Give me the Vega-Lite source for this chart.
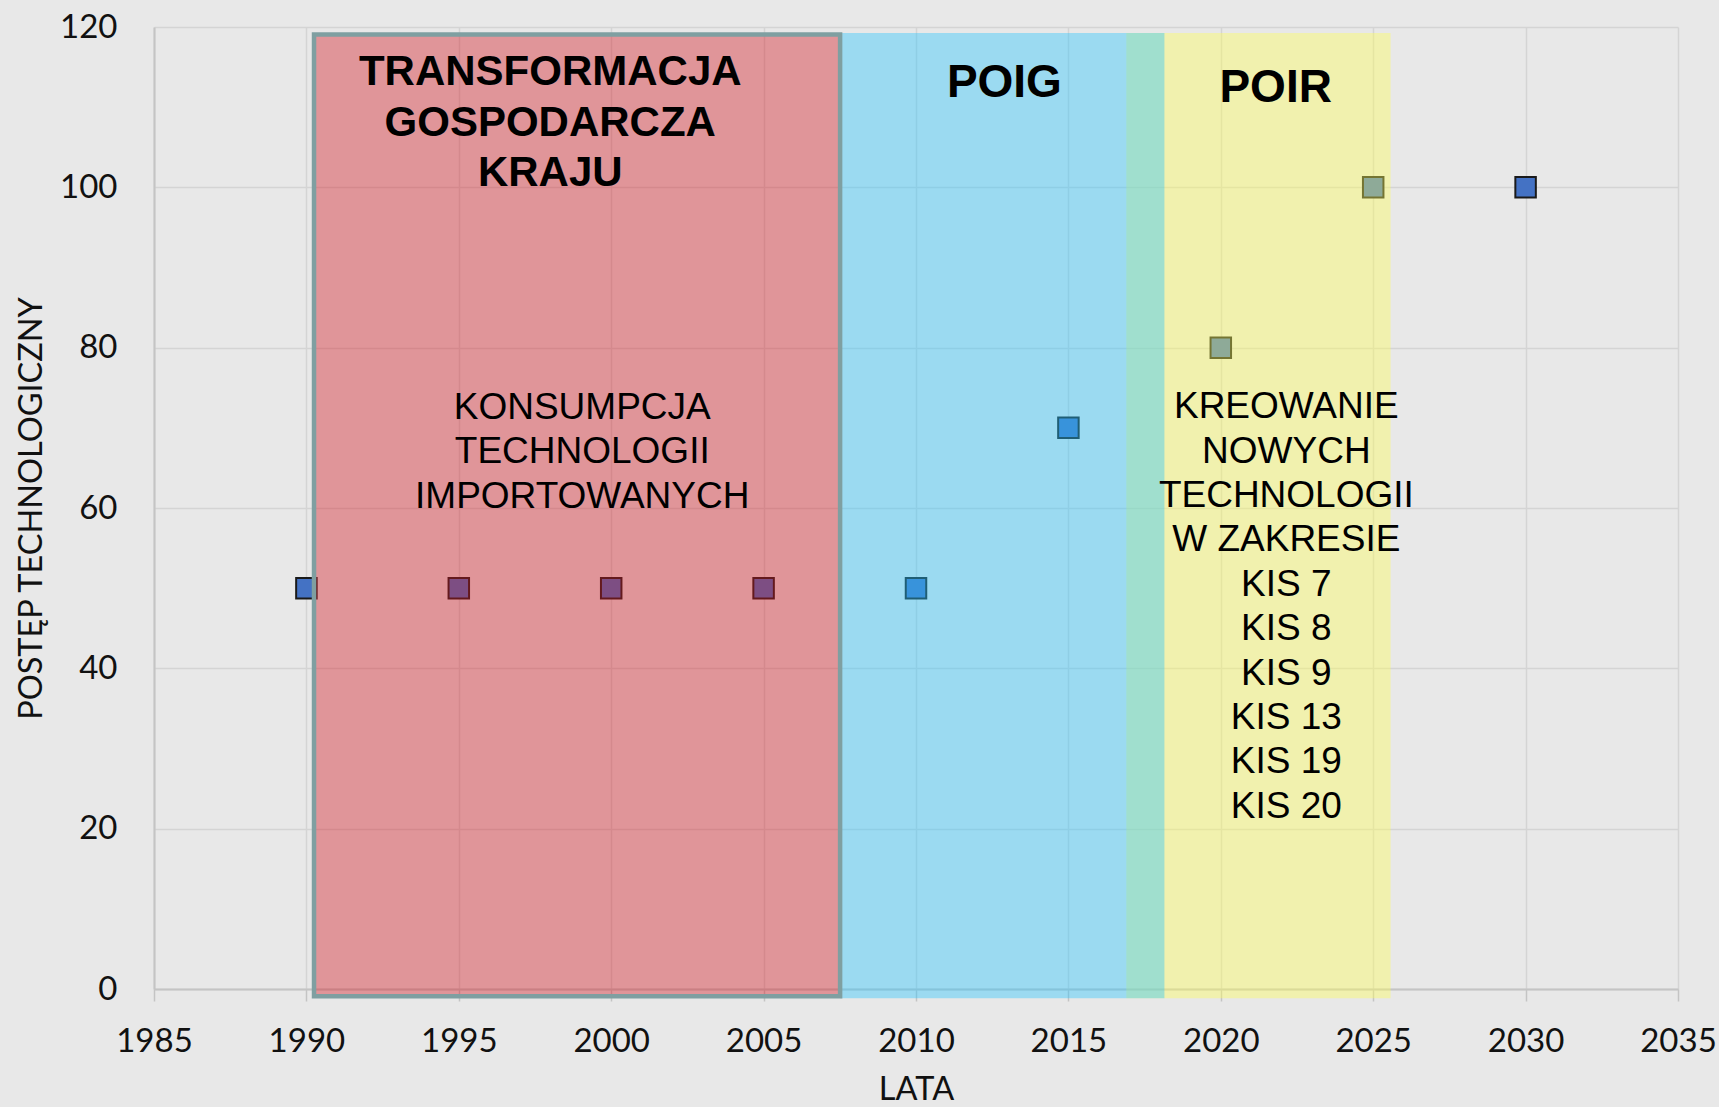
{
  "$schema": "https://vega.github.io/schema/vega-lite/v6.json",
  "width": 1524,
  "height": 962,
  "autosize": {"type": "none"},
  "padding": {"left": 154, "top": 27, "right": 41, "bottom": 118},
  "background": "#e8e8e8",
  "config": {
    "view": {"stroke": null},
    "axis": {
      "labelFont": "Lato",
      "labelFontSize": 33,
      "labelColor": "#111111",
      "labelFlush": false,
      "labelOverlap": false,
      "titleFont": "Lato",
      "titleFontSize": 32.5,
      "titleFontWeight": "normal",
      "titleColor": "#111111",
      "gridColor": "#d4d4d4",
      "gridWidth": 1.5,
      "domainColor": "#c4c4c4",
      "domainWidth": 2,
      "tickColor": "#c4c4c4",
      "tickWidth": 1.5
    },
    "axisX": {"tickSize": 12, "labelPadding": 24, "titlePadding": 15},
    "axisY": {"ticks": false, "labelPadding": 37, "titlePadding": 11}
  },
  "datasets": {
    "punkty": [
      {"rok": 1990, "postep": 50},
      {"rok": 1995, "postep": 50},
      {"rok": 2000, "postep": 50},
      {"rok": 2005, "postep": 50},
      {"rok": 2010, "postep": 50},
      {"rok": 2015, "postep": 70},
      {"rok": 2020, "postep": 80},
      {"rok": 2025, "postep": 100},
      {"rok": 2030, "postep": 100}
    ],
    "okresy": [
      {"okres": "POIR", "od": 2016.9, "do": 2025.57, "dol": -1.16, "gora": 119.25},
      {"okres": "POIG", "od": 2007.51, "do": 2018.15, "dol": -1.16, "gora": 119.25},
      {"okres": "TRANSFORMACJA", "od": 1990.25, "do": 2007.51, "dol": -0.89, "gora": 119.07}
    ],
    "tytuly": [
      {"okres": "TRANSFORMACJA", "tekst": "TRANSFORMACJA\nGOSPODARCZA\nKRAJU", "rok": 1998.0, "poziom": 112.8},
      {"okres": "POIG", "tekst": "POIG", "rok": 2012.9, "poziom": 111.3},
      {"okres": "POIR", "tekst": "POIR", "rok": 2021.8, "poziom": 110.65}
    ],
    "opisy": [
      {"tekst": "KONSUMPCJA\nTECHNOLOGII\nIMPORTOWANYCH", "rok": 1999.05, "poziom": 71.1},
      {"tekst": "KREOWANIE\nNOWYCH\nTECHNOLOGII\nW ZAKRESIE\nKIS 7\nKIS 8\nKIS 9\nKIS 13\nKIS 19\nKIS 20", "rok": 2022.15, "poziom": 71.2}
    ]
  },
  "layer": [
    {
      "data": {"name": "punkty"},
      "mark": {"type": "square", "size": 420, "fill": "#4472c4", "stroke": "#1a1a1a", "strokeWidth": 2, "opacity": 1},
      "encoding": {
        "x": {
          "field": "rok", "type": "quantitative",
          "scale": {"domain": [1985, 2035], "nice": false, "zero": false},
          "axis": {"title": "LATA", "values": [1985, 1990, 1995, 2000, 2005, 2010, 2015, 2020, 2025, 2030, 2035], "format": "d"}
        },
        "y": {
          "field": "postep", "type": "quantitative",
          "scale": {"domain": [0, 120], "nice": false},
          "axis": {"title": "POSTĘP TECHNOLOGICZNY", "values": [0, 20, 40, 60, 80, 100, 120]}
        }
      }
    },
    {
      "data": {"name": "okresy"},
      "mark": {"type": "rect", "fillOpacity": 0.4, "strokeOpacity": 1, "strokeWidth": 4.5},
      "encoding": {
        "x": {"field": "od", "type": "quantitative"},
        "x2": {"field": "do"},
        "y": {"field": "dol", "type": "quantitative"},
        "y2": {"field": "gora"},
        "fill": {
          "field": "okres", "type": "nominal",
          "scale": {"domain": ["TRANSFORMACJA", "POIG", "POIR"], "range": ["#d41a24", "#28c6ff", "#ffff58"]},
          "legend": null
        },
        "stroke": {
          "condition": {"test": "datum.okres === 'TRANSFORMACJA'", "value": "#7f9fa1"},
          "value": "transparent"
        }
      }
    },
    {
      "data": {"name": "tytuly"},
      "transform": [{"filter": "datum.okres === 'TRANSFORMACJA'"}],
      "mark": {"type": "text", "font": "Liberation Sans", "fontWeight": "bold", "fontSize": 42, "lineHeight": 50.8, "align": "center", "baseline": "alphabetic", "lineBreak": "\n", "color": "#000000"},
      "encoding": {
        "x": {"field": "rok", "type": "quantitative"},
        "y": {"field": "poziom", "type": "quantitative"},
        "text": {"field": "tekst", "type": "nominal"}
      }
    },
    {
      "data": {"name": "tytuly"},
      "transform": [{"filter": "datum.okres !== 'TRANSFORMACJA'"}],
      "mark": {"type": "text", "font": "Liberation Sans", "fontWeight": "bold", "fontSize": 46, "align": "center", "baseline": "alphabetic", "color": "#000000"},
      "encoding": {
        "x": {"field": "rok", "type": "quantitative"},
        "y": {"field": "poziom", "type": "quantitative"},
        "text": {"field": "tekst", "type": "nominal"}
      }
    },
    {
      "data": {"name": "opisy"},
      "mark": {"type": "text", "font": "Liberation Sans", "fontSize": 37, "lineHeight": 44.4, "align": "center", "baseline": "alphabetic", "lineBreak": "\n", "color": "#000000"},
      "encoding": {
        "x": {"field": "rok", "type": "quantitative"},
        "y": {"field": "poziom", "type": "quantitative"},
        "text": {"field": "tekst", "type": "nominal"}
      }
    }
  ]
}
